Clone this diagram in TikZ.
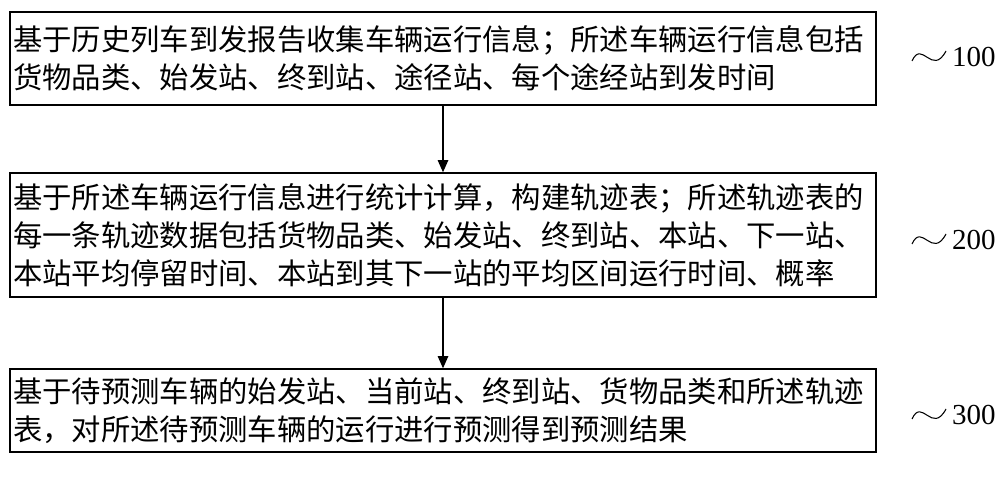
\documentclass[tikz,border=0pt]{standalone}
\usepackage{fontspec}
\setmainfont{Liberation Serif}
\newfontfamily\cjk{Noto Sans CJK SC}
\usetikzlibrary{arrows.meta}
\begin{document}
\begin{tikzpicture}[x=0.02cm,y=-0.02cm,
  stepbox/.style={draw,line width=0.8pt,minimum width=17.32cm,text width=17.2cm,align=left,inner sep=0pt,font=\cjk\fontsize{16.7}{21.6}\selectfont},
  lab/.style={font=\fontsize{16.5}{18}\selectfont,anchor=west},
  squig/.style={line width=0.6pt},
  conn/.style={-{Triangle[length=7pt,width=6pt]},line width=0.8pt}]
\useasboundingbox (0,0) rectangle (1000,479);
\node[stepbox,minimum height=1.86cm] (b1) at (443,58.5) {基于历史列车到发报告收集车辆运行信息；所述车辆运行信息包括\\货物品类、始发站、终到站、途径站、每个途经站到发时间};
\node[stepbox,minimum height=2.48cm] (b2) at (443,235) {基于所述车辆运行信息进行统计计算，构建轨迹表；所述轨迹表的\\每一条轨迹数据包括货物品类、始发站、终到站、本站、下一站、\\本站平均停留时间、本站到其下一站的平均区间运行时间、概率};
\node[stepbox,minimum height=1.66cm] (b3) at (443,410.5) {基于待预测车辆的始发站、当前站、终到站、货物品类和所述轨迹\\表，对所述待预测车辆的运行进行预测得到预测结果};
\draw[conn] (b1.south) -- (b2.north);
\draw[conn] (b2.south) -- (b3.north);
\foreach \n/\y/\t in {s1/57/100,s2/240/200,s3/415/300}{
  \coordinate (\n a) at (912,\y+4);
  \coordinate (\n b) at (946,\y-6);
  \draw[squig] (\n a) .. controls (922,\y-18) and (932,\y+20) .. (\n b);
  \node[lab] (\n l) at (946,\y) {\t};
}
\end{tikzpicture}
\end{document}
